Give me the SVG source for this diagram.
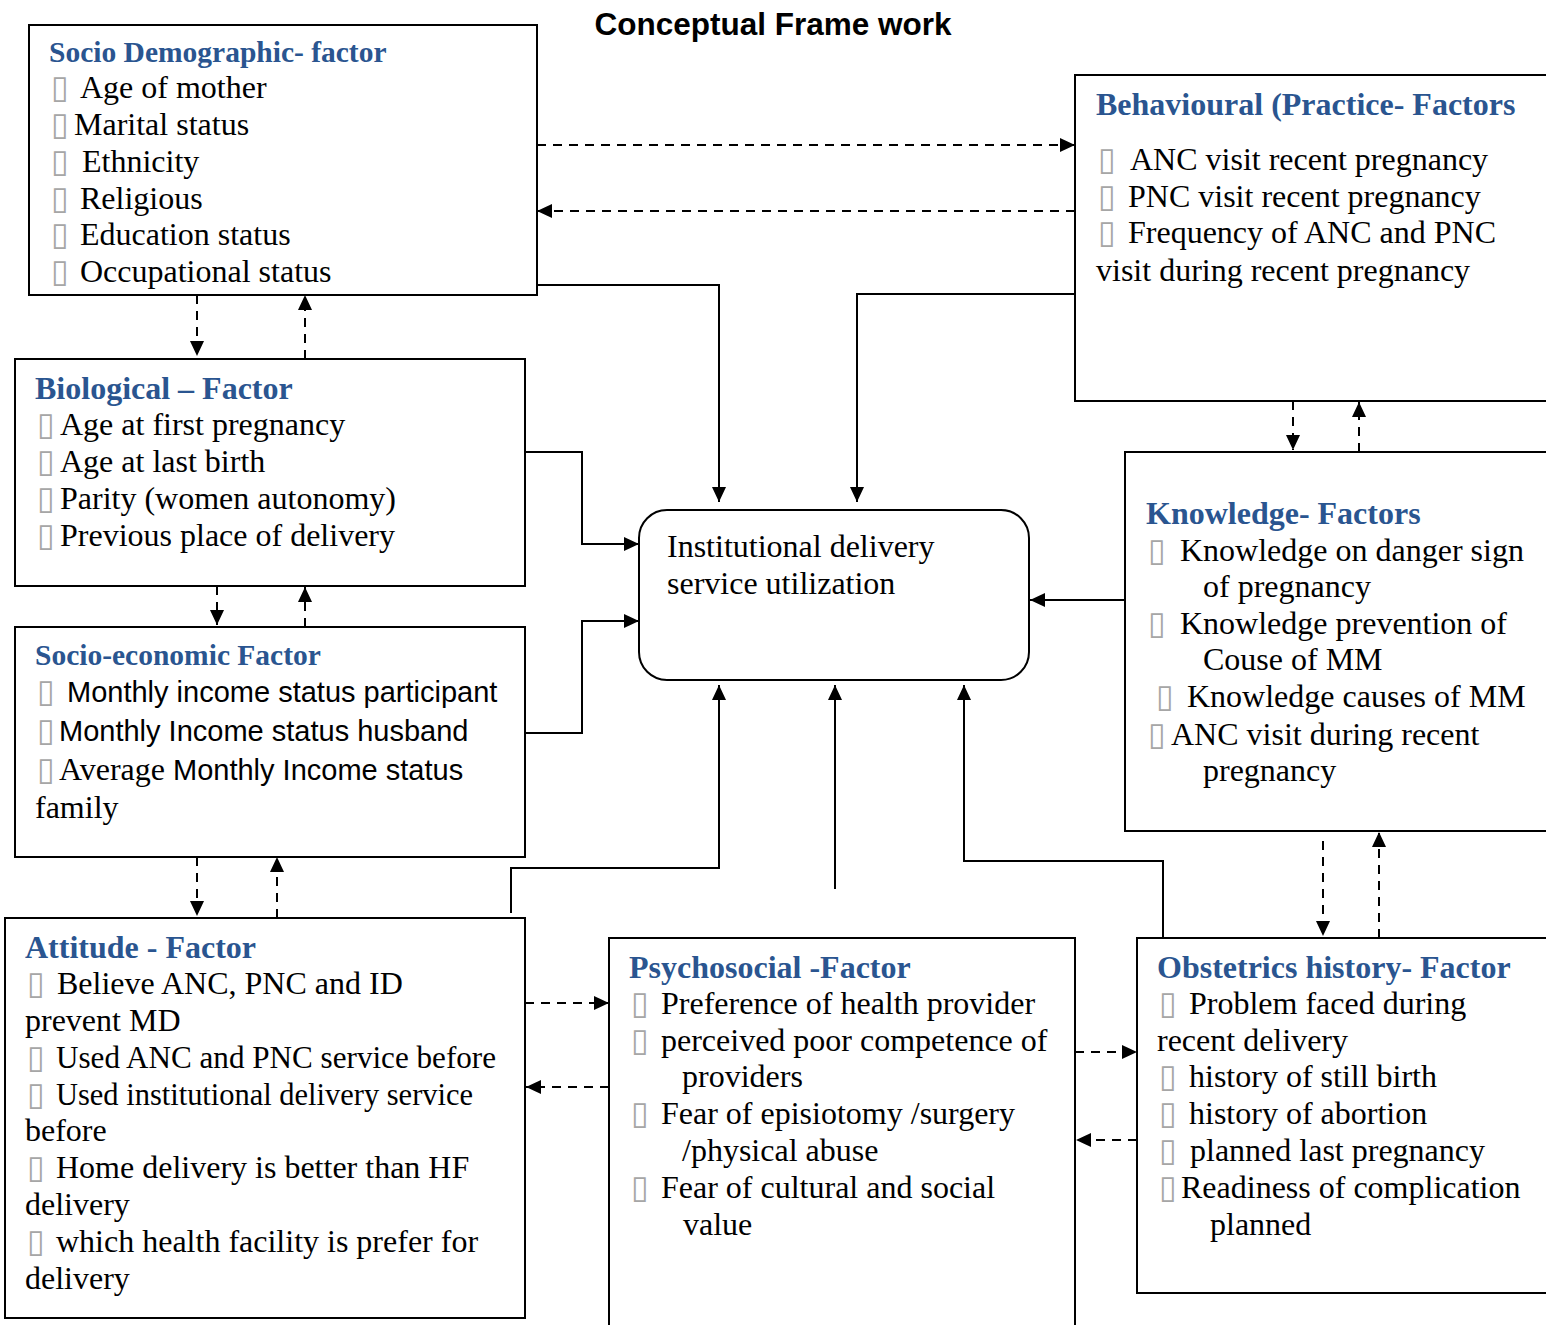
<svg xmlns="http://www.w3.org/2000/svg" width="1546" height="1325" viewBox="0 0 1546 1325">
<style>
.box{fill:#fff;stroke:#000;stroke-width:2}
.t{font-family:"Liberation Serif","Times New Roman",serif;font-size:32px;fill:#000}
.s{font-family:"Liberation Sans",Arial,sans-serif;font-size:29px;fill:#000}
.h{font-family:"Liberation Serif","Times New Roman",serif;font-size:32px;font-weight:bold;fill:#2A5590}
.h2{font-size:29.5px}
.b{font-family:"DejaVu Sans",sans-serif;font-size:32px;fill:#a6a6a6}
.ln{fill:none;stroke:#000;stroke-width:2}
.dl{fill:none;stroke:#000;stroke-width:2;stroke-dasharray:9 7}
</style>
<defs>
<marker id="ar" markerUnits="userSpaceOnUse" markerWidth="16" markerHeight="14" refX="15" refY="7" orient="auto">
<path d="M0,0 L15,7 L0,14 z" fill="#000"/>
</marker>
</defs>
<rect width="1546" height="1325" fill="#fff"/>
<text x="773" y="35" text-anchor="middle" font-family="Liberation Sans, Arial, sans-serif" font-size="31.5" font-weight="bold">Conceptual Frame work</text>

<g id="connectors">
<path class="dl" d="M537,145 H1075" marker-end="url(#ar)"/>
<path class="dl" d="M1075,211 H537" marker-end="url(#ar)"/>
<path class="ln" d="M537,285 H719 V502" marker-end="url(#ar)"/>
<path class="ln" d="M1075,294 H857 V502" marker-end="url(#ar)"/>
<path class="dl" d="M197,295 V356" marker-end="url(#ar)"/>
<path class="dl" d="M305,359 V295" marker-end="url(#ar)"/>
<path class="ln" d="M525,452 H582 V544 H639" marker-end="url(#ar)"/>
<path class="ln" d="M525,733 H582 V621 H639" marker-end="url(#ar)"/>
<path class="dl" d="M217,586 V625" marker-end="url(#ar)"/>
<path class="dl" d="M305,627 V587" marker-end="url(#ar)"/>
<path class="dl" d="M197,857 V916" marker-end="url(#ar)"/>
<path class="dl" d="M277,918 V857" marker-end="url(#ar)"/>
<path class="ln" d="M511,913 V868 H719 V685" marker-end="url(#ar)"/>
<path class="ln" d="M835,889 V685" marker-end="url(#ar)"/>
<path class="ln" d="M1163,938 V861 H964 V685" marker-end="url(#ar)"/>
<path class="ln" d="M1125,600 H1030" marker-end="url(#ar)"/>
<path class="dl" d="M1293,401 V450" marker-end="url(#ar)"/>
<path class="dl" d="M1359,452 V402" marker-end="url(#ar)"/>
<path class="dl" d="M1323,841 V936" marker-end="url(#ar)"/>
<path class="dl" d="M1379,938 V832" marker-end="url(#ar)"/>
<path class="dl" d="M525,1003 H609" marker-end="url(#ar)"/>
<path class="dl" d="M609,1087 H526" marker-end="url(#ar)"/>
<path class="dl" d="M1075,1052 H1137" marker-end="url(#ar)"/>
<path class="dl" d="M1137,1140 H1076" marker-end="url(#ar)"/>
</g>

<g id="socio-demographic">
<rect class="box" x="29" y="25" width="508" height="270"/>
<text class="h h2" x="49" y="62">Socio Demographic- factor</text>
<text class="t" y="98"><tspan class="b" x="51">▯</tspan><tspan x="80">Age of mother</tspan></text>
<text class="t" y="135"><tspan class="b" x="51">▯</tspan><tspan x="74">Marital status</tspan></text>
<text class="t" y="172"><tspan class="b" x="51">▯</tspan><tspan x="82">Ethnicity</tspan></text>
<text class="t" y="209"><tspan class="b" x="51">▯</tspan><tspan x="80">Religious</tspan></text>
<text class="t" y="245"><tspan class="b" x="51">▯</tspan><tspan x="80">Education status</tspan></text>
<text class="t" y="282"><tspan class="b" x="51">▯</tspan><tspan x="80">Occupational status</tspan></text>
</g>

<g id="behavioural">
<rect class="box" x="1075" y="75" width="490" height="326"/>
<text class="h" x="1096" y="115">Behavioural (Practice- Factors</text>
<text class="t" y="170"><tspan class="b" x="1098">▯</tspan><tspan x="1130">ANC visit recent pregnancy</tspan></text>
<text class="t" y="207"><tspan class="b" x="1098">▯</tspan><tspan x="1128">PNC visit recent pregnancy</tspan></text>
<text class="t" y="243"><tspan class="b" x="1098">▯</tspan><tspan x="1128">Frequency of ANC and PNC</tspan></text>
<text class="t" x="1096" y="281">visit during recent pregnancy</text>
</g>

<g id="biological">
<rect class="box" x="15" y="359" width="510" height="227"/>
<text class="h" x="35" y="399">Biological – Factor</text>
<text class="t" y="435"><tspan class="b" x="37">▯</tspan><tspan x="60">Age at first pregnancy</tspan></text>
<text class="t" y="472"><tspan class="b" x="37">▯</tspan><tspan x="60">Age at last birth</tspan></text>
<text class="t" y="509"><tspan class="b" x="37">▯</tspan><tspan x="60">Parity (women autonomy)</tspan></text>
<text class="t" y="546"><tspan class="b" x="37">▯</tspan><tspan x="60">Previous place of delivery</tspan></text>
</g>

<g id="socio-economic">
<rect class="box" x="15" y="627" width="510" height="230"/>
<text class="h h2" x="35" y="665">Socio-economic Factor</text>
<text class="s" y="702"><tspan class="b" x="37">▯</tspan><tspan x="67">Monthly income status participant</tspan></text>
<text class="s" y="741"><tspan class="b" x="37">▯</tspan><tspan x="59">Monthly Income status husband</tspan></text>
<text y="780"><tspan class="b" x="37">▯</tspan><tspan class="t" x="59">Average </tspan><tspan class="s">Monthly Income status</tspan></text>
<text class="t" x="35" y="818">family</text>
</g>

<g id="institutional-delivery">
<rect class="box" x="639" y="510" width="390" height="170" rx="28" ry="28"/>
<text class="t" x="667" y="557">Institutional delivery</text>
<text class="t" x="667" y="594">service utilization</text>
</g>

<g id="knowledge">
<rect class="box" x="1125" y="452" width="440" height="379"/>
<text class="h" x="1146" y="524">Knowledge- Factors</text>
<text class="t" y="561"><tspan class="b" x="1148">▯</tspan><tspan x="1180">Knowledge on danger sign</tspan></text>
<text class="t" x="1203" y="597">of pregnancy</text>
<text class="t" y="634"><tspan class="b" x="1148">▯</tspan><tspan x="1180">Knowledge prevention of</tspan></text>
<text class="t" x="1203" y="670">Couse of MM</text>
<text class="t" y="707"><tspan class="b" x="1156">▯</tspan><tspan x="1187">Knowledge causes of MM</tspan></text>
<text class="t" y="745"><tspan class="b" x="1148">▯</tspan><tspan x="1171">ANC visit during recent</tspan></text>
<text class="t" x="1203" y="781">pregnancy</text>
</g>

<g id="attitude">
<rect class="box" x="5" y="918" width="520" height="400"/>
<text class="h" x="25" y="958">Attitude - Factor</text>
<text class="t" y="994"><tspan class="b" x="27">▯</tspan><tspan x="57">Believe ANC, PNC and ID</tspan></text>
<text class="t" x="25" y="1031">prevent MD</text>
<text class="t" y="1068"><tspan class="b" x="27">▯</tspan><tspan x="56" textLength="440" lengthAdjust="spacingAndGlyphs">Used ANC and PNC service before</tspan></text>
<text class="t" y="1105"><tspan class="b" x="27">▯</tspan><tspan x="56" textLength="417" lengthAdjust="spacingAndGlyphs">Used institutional delivery service</tspan></text>
<text class="t" x="25" y="1141">before</text>
<text class="t" y="1178"><tspan class="b" x="27">▯</tspan><tspan x="56">Home delivery is better than HF</tspan></text>
<text class="t" x="25" y="1215">delivery</text>
<text class="t" y="1252"><tspan class="b" x="27">▯</tspan><tspan x="56">which health facility is prefer for</tspan></text>
<text class="t" x="25" y="1289">delivery</text>
</g>

<g id="psychosocial">
<rect class="box" x="609" y="938" width="466" height="400"/>
<text class="h" x="629" y="978">Psychosocial -Factor</text>
<text class="t" y="1014"><tspan class="b" x="631">▯</tspan><tspan x="661">Preference of health provider</tspan></text>
<text class="t" y="1051"><tspan class="b" x="631">▯</tspan><tspan x="661">perceived poor competence of</tspan></text>
<text class="t" x="682" y="1087">providers</text>
<text class="t" y="1124"><tspan class="b" x="631">▯</tspan><tspan x="661">Fear of episiotomy /surgery</tspan></text>
<text class="t" x="682" y="1161">/physical abuse</text>
<text class="t" y="1198"><tspan class="b" x="631">▯</tspan><tspan x="661">Fear of cultural and social</tspan></text>
<text class="t" x="683" y="1235">value</text>
</g>

<g id="obstetrics">
<rect class="box" x="1137" y="938" width="430" height="355"/>
<text class="h" x="1157" y="978">Obstetrics history- Factor</text>
<text class="t" y="1014"><tspan class="b" x="1159">▯</tspan><tspan x="1189">Problem faced during</tspan></text>
<text class="t" x="1157" y="1051">recent delivery</text>
<text class="t" y="1087"><tspan class="b" x="1159">▯</tspan><tspan x="1189">history of still birth</tspan></text>
<text class="t" y="1124"><tspan class="b" x="1159">▯</tspan><tspan x="1189">history of abortion</tspan></text>
<text class="t" y="1161"><tspan class="b" x="1159">▯</tspan><tspan x="1190">planned last pregnancy</tspan></text>
<text class="t" y="1198"><tspan class="b" x="1159">▯</tspan><tspan x="1181">Readiness of complication</tspan></text>
<text class="t" x="1210" y="1235">planned</text>
</g>
</svg>
